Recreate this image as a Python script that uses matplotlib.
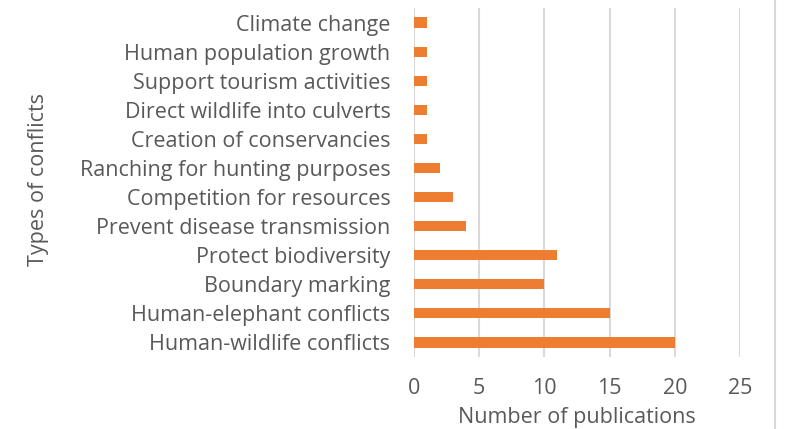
import matplotlib.pyplot as plt
from matplotlib.lines import Line2D

# Conflict types, listed bottom to top as they appear on the y axis
conflicts = [
    "Human-wildlife conflicts",
    "Human-elephant conflicts",
    "Boundary marking",
    "Protect biodiversity",
    "Prevent disease transmission",
    "Competition for resources",
    "Ranching for hunting purposes",
    "Creation of conservancies",
    "Direct wildlife into culverts",
    "Support tourism activities",
    "Human population growth",
    "Climate change",
]
publications = [20, 15, 10, 11, 4, 3, 2, 1, 1, 1, 1, 1]
x_ticks = [0, 5, 10, 15, 20, 25]

text_color = "#595959"
grid_color = "#D9D9D9"
plt.rcParams["font.family"] = ["Open Sans", "DejaVu Sans"]
fs = 15.5

fig = plt.figure(figsize=(7.89, 4.29), dpi=100)
ax = fig.add_axes([0.5247, 0.1678, 0.4132, 0.8136])

ax.barh(range(len(conflicts)), publications, height=0.35, color="#ED7D31", zorder=3)

ax.set_xlim(0, 25)
ax.set_ylim(-0.5, len(conflicts) - 0.5)
ax.set_xticks(x_ticks)
ax.set_yticks(range(len(conflicts)))
ax.set_yticklabels(conflicts)

ax.grid(axis="x", color=grid_color, linewidth=1.5, zorder=0)
for s in ["top", "right", "bottom", "left"]:
    ax.spines[s].set_visible(False)
ax.tick_params(axis="both", length=0, colors=text_color, labelsize=fs)
ax.tick_params(axis="x", pad=15)
ax.tick_params(axis="y", pad=17)

ax.set_xlabel("Number of publications", fontsize=fs, color=text_color, labelpad=6)
ax.set_ylabel("Types of conflicts", fontsize=fs, color=text_color)
ax.yaxis.set_label_coords(-1.12, 0.51)

# thin frame edge on the right side of the chart area
fig.add_artist(Line2D([775 / 789, 775 / 789], [0, 1], transform=fig.transFigure,
                      color=grid_color, linewidth=1.5))

fig.savefig("out.png", dpi=100)
